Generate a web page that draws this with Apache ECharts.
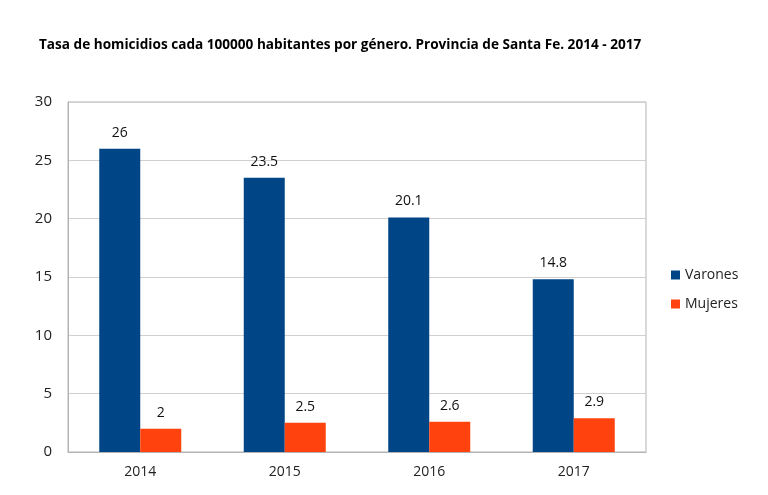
<!DOCTYPE html>
<html><head><meta charset="utf-8">
<script src="https://cdn.jsdelivr.net/npm/echarts@6/dist/echarts.min.js"></script>
<style>html,body{margin:0;padding:0;background:#fff}#c{width:768px;height:495px}</style>
</head><body><div id="c"></div>
<script>
const categories = ['2014', '2015', '2016', '2017'];
const varones = [26, 23.5, 20.1, 14.8];
const mujeres = [2, 2.5, 2.6, 2.9];
const yTicks = [0, 5, 10, 15, 20, 25, 30];

const chart = echarts.init(document.getElementById('c'));
const font = '"Open Sans", "Noto Sans", sans-serif';
chart.setOption({
  animation: false,
  title: {
    text: 'Tasa de homicidios cada 100000 habitantes por género. Provincia de Santa Fe. 2014 - 2017',
    left: 34, top: 33,
    textStyle: {fontFamily: font, fontSize: 13.6, fontWeight: 'bold', color: '#000'}
  },
  legend: {
    orient: 'vertical', left: 666, top: 263, itemGap: 15,
    itemWidth: 9, itemHeight: 9, icon: 'rect',
    textStyle: {fontFamily: font, fontSize: 14, color: '#222'},
    data: ['Varones', 'Mujeres']
  },
  grid: {left: 68, right: 122, top: 102, bottom: 43, show: true, borderColor: '#b3b3b3', borderWidth: 1},
  xAxis: {
    type: 'category', data: categories,
    axisLine: {lineStyle: {color: '#b3b3b3'}},
    axisTick: {show: false},
    axisLabel: {fontFamily: font, fontSize: 14, color: '#222', margin: 13}
  },
  yAxis: {
    type: 'value', min: 0, max: 30, interval: 5,
    axisLine: {show: true, lineStyle: {color: '#b3b3b3'}},
    axisTick: {show: false},
    splitLine: {lineStyle: {color: '#d0d0d0'}},
    axisLabel: {fontFamily: font, fontSize: 15, color: '#222', margin: 16,
      formatter: v => yTicks.includes(v) ? String(v) : ''}
  },
  series: [
    {name: 'Varones', type: 'bar', data: varones, barWidth: 41, barGap: '0%',
     itemStyle: {color: '#004586'},
     label: {show: true, position: 'top', distance: 9, fontFamily: font, fontSize: 14, color: '#111'}},
    {name: 'Mujeres', type: 'bar', data: mujeres, barWidth: 41, barGap: '0%',
     itemStyle: {color: '#ff420e'},
     label: {show: true, position: 'top', distance: 9, fontFamily: font, fontSize: 14, color: '#111'}}
  ]
});
</script></body></html>
